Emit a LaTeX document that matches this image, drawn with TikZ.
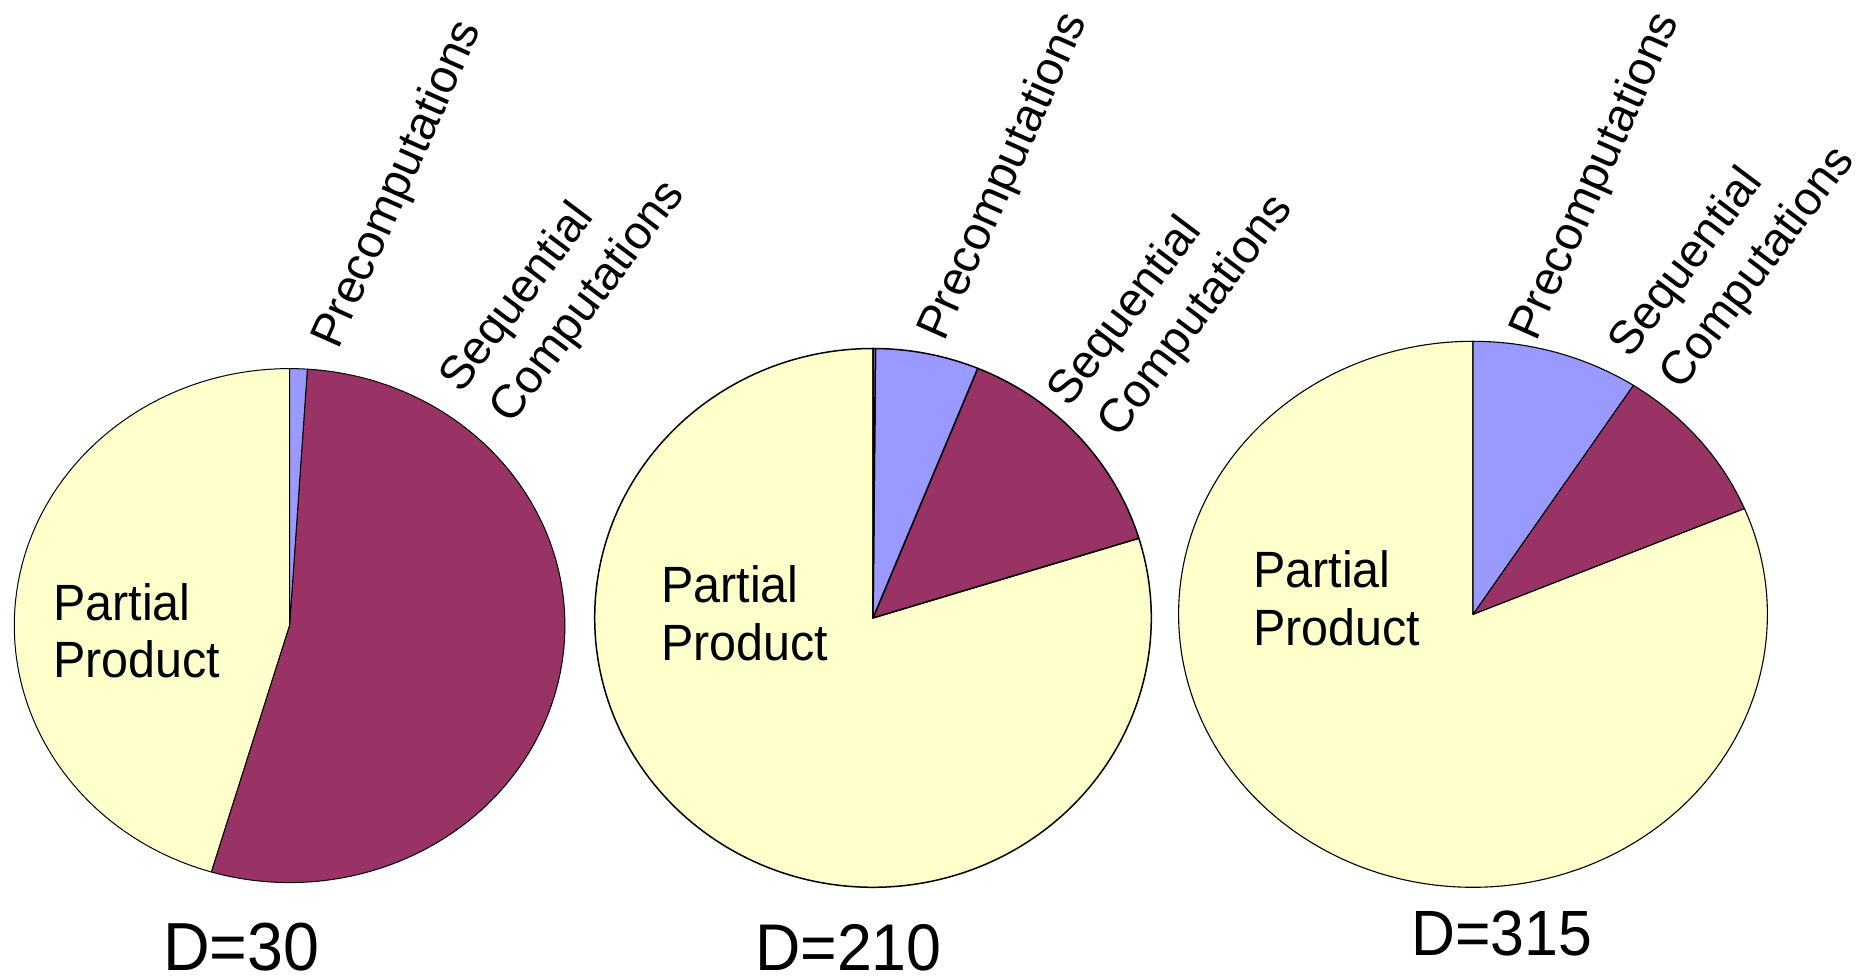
\documentclass[tikz,border=0pt]{standalone}
\usepackage{fontspec}
\setmainfont{Liberation Sans}
\newfontfamily\narrowsans{Liberation Sans}[FakeStretch=0.95]
\definecolor{ppyellow}{HTML}{FFFFCC}
\definecolor{seqpurple}{HTML}{993366}
\definecolor{preblue}{HTML}{9999FF}
\begin{document}
\begin{tikzpicture}[x=1pt,y=1pt,
  slice/.style={draw=black, line join=round},
  rotlabel/.style={anchor=base west, inner sep=0pt, font=\fontsize{47}{56}\selectfont},
  inlabel/.style={anchor=base west, inner sep=0pt, font=\narrowsans\fontsize{51}{58}\selectfont},
  dlabel/.style={anchor=base west, inner sep=0pt}]
\useasboundingbox (0,0) rectangle (1865,977);

% pie centres
\coordinate (c1) at (289.6,351.4);
\coordinate (c2) at (873,359.1);
\coordinate (c3) at (1473,362.7);

% ---- D = 30 ----
\filldraw[slice, line width=1pt, fill=ppyellow] (c1) -- ++(90:275.3pt and 257pt)
  arc[start angle=90, end angle=253.5, x radius=275.3pt, y radius=257pt] -- cycle;
\filldraw[slice, line width=1pt, fill=seqpurple] (c1) -- ++(86.3:275.3pt and 257pt)
  arc[start angle=86.3, end angle=-106.5, x radius=275.3pt, y radius=257pt] -- cycle;
\filldraw[slice, line width=1pt, fill=preblue] (c1) -- ++(90:275.3pt and 257pt)
  arc[start angle=90, end angle=86.3, x radius=275.3pt, y radius=257pt] -- cycle;

% ---- D = 210 ----
\filldraw[slice, line width=1.5pt, fill=ppyellow] (c2) -- ++(90:278.3pt and 269.4pt)
  arc[start angle=90, end angle=377.2, x radius=278.3pt, y radius=269.4pt] -- cycle;
\filldraw[slice, line width=1.5pt, fill=seqpurple] (c2) -- ++(67.9:278.3pt and 269.4pt)
  arc[start angle=67.9, end angle=17.2, x radius=278.3pt, y radius=269.4pt] -- cycle;
\filldraw[slice, line width=1.5pt, fill=preblue] (c2) -- ++(89.5:278.3pt and 269.4pt)
  arc[start angle=89.5, end angle=67.9, x radius=278.3pt, y radius=269.4pt] -- cycle;
\filldraw[slice, line width=1.5pt, fill=preblue] (c2) -- ++(90:278.3pt and 269.4pt)
  arc[start angle=90, end angle=89.5, x radius=278.3pt, y radius=269.4pt] -- cycle;

% ---- D = 315 ----
\filldraw[slice, line width=1.1pt, fill=ppyellow] (c3) -- ++(90:294.4pt and 273pt)
  arc[start angle=90, end angle=382.8, x radius=294.4pt, y radius=273pt] -- cycle;
\filldraw[slice, line width=1.1pt, fill=seqpurple] (c3) -- ++(57:294.4pt and 273pt)
  arc[start angle=57, end angle=22.8, x radius=294.4pt, y radius=273pt] -- cycle;
\filldraw[slice, line width=1.1pt, fill=preblue] (c3) -- ++(90:294.4pt and 273pt)
  arc[start angle=90, end angle=57, x radius=294.4pt, y radius=273pt] -- cycle;

% slice labels inside the pies
\node[inlabel] (pp1a) at (53,356) {Partial};
\node[inlabel] (pp1b) at (53,299) {Product};
\node[inlabel] (pp2a) at (661,374) {Partial};
\node[inlabel] (pp2b) at (661,316) {Product};
\node[inlabel] (pp3a) at (1253,389) {Partial};
\node[inlabel] (pp3b) at (1253,331) {Product};

% rotated labels above the pies
\node[rotlabel, rotate=66] (pre1) at (338,626) {Precomputations};
\node[rotlabel, rotate=53] (seq1a) at (461,582) {Sequential};
\node[rotlabel, rotate=53] (seq1b) at (511,551) {Computations};

\node[rotlabel, rotate=66] (pre2) at (944,634) {Precomputations};
\node[rotlabel, rotate=53] (seq2a) at (1069,568) {Sequential};
\node[rotlabel, rotate=53] (seq2b) at (1119,537) {Computations};

\node[rotlabel, rotate=66] (pre3) at (1536,634) {Precomputations};
\node[rotlabel, rotate=53] (seq3a) at (1630,617) {Sequential};
\node[rotlabel, rotate=53] (seq3b) at (1681,585) {Computations};

% captions
\node[dlabel, font=\narrowsans\fontsize{68}{72}\selectfont] (d1) at (163,7) {D=30};
\node[dlabel, font=\narrowsans\fontsize{66}{72}\selectfont] (d2) at (755,7) {D=210};
\node[dlabel, font=\narrowsans\fontsize{64}{72}\selectfont] (d3) at (1411,22) {D=315};
\end{tikzpicture}
\end{document}
